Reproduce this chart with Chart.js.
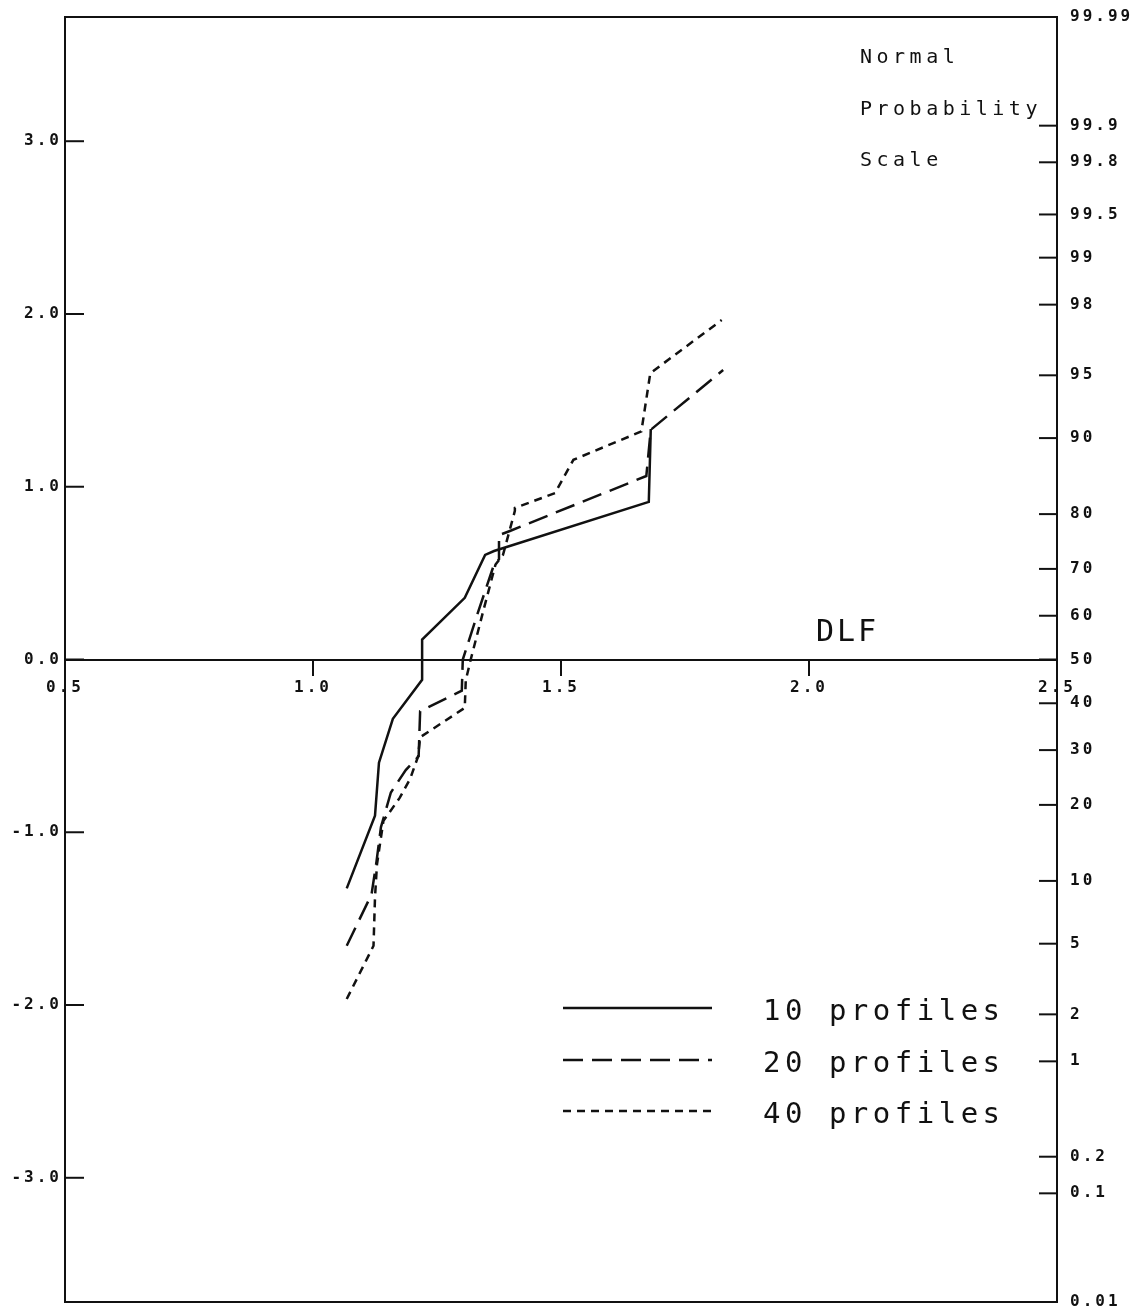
<!DOCTYPE html>
<html>
<head>
<meta charset="utf-8">
<script src="https://cdn.jsdelivr.net/npm/chart.js@4/dist/chart.umd.min.js"></script>
<style>
    html, body { margin: 0; padding: 0; background: #fff; }
    canvas { display: block; }
</style>
</head>
<body>
<canvas id="chartjs" width="1137" height="1315"></canvas>
<script>
// Данные (DLF и нормальная квантиль)
let seriesLabels = ['10 profiles', '20 profiles', '40 profiles'];

let dlf10 = [1.068, 1.125, 1.133, 1.161, 1.220, 1.220, 1.306, 1.347, 1.365, 1.677, 1.681];
let z10 = [-1.325, -0.904, -0.597, -0.343, -0.117, 0.115, 0.357, 0.605, 0.628, 0.912, 1.334];

let dlf20 = [1.068, 1.118, 1.128, 1.137, 1.157, 1.187, 1.213, 1.216, 1.300, 1.302, 1.330, 1.365, 1.375, 1.375, 1.397, 1.672, 1.681, 1.827];
let z20 = [-1.657, -1.36, -1.17, -0.97, -0.77, -0.64, -0.56, -0.30, -0.18, 0.0, 0.25, 0.55, 0.58, 0.72, 0.744, 1.062, 1.33, 1.676];

let dlf40 = [1.068, 1.122, 1.125, 1.129, 1.142, 1.175, 1.196, 1.212, 1.216, 1.306, 1.308, 1.318, 1.345, 1.368, 1.383, 1.407, 1.407, 1.488, 1.525, 1.662, 1.680, 1.824];
let z40 = [-1.965, -1.657, -1.377, -1.185, -0.934, -0.80, -0.69, -0.56, -0.45, -0.28, -0.12, 0.0, 0.30, 0.55, 0.605, 0.86, 0.877, 0.963, 1.156, 1.32, 1.657, 1.965];

let xTicks = [0.5, 1.0, 1.5, 2.0, 2.5];
let yTicks = [-3, -2, -1, 0, 1, 2, 3];
let probLabels = ['99.99', '99.9', '99.8', '99.5', '99', '98', '95', '90', '80', '70', '60', '50',
    '40', '30', '20', '10', '5', '2', '1', '0.2', '0.1', '0.01'];
let probZ = [3.719, 3.090, 2.878, 2.576, 2.326, 2.054, 1.645, 1.2816, 0.8416, 0.5244, 0.2533, 0,
    -0.2533, -0.5244, -0.8416, -1.2816, -1.645, -2.054, -2.326, -2.878, -3.090, -3.719];
let zMax = 3.719;

let ink = '#111';
let monoFont = '"DejaVu Sans Mono", "Liberation Mono", monospace';

// Получение контекста для рисования
let canvas = document.getElementById('chartjs');
let context = canvas.getContext('2d');

const toPoints = (xs, ys) => xs.map((x, i) => ({ x: x, y: ys[i] }));

// Рамка, внутренние засечки, надписи и легенда
const paperPlugin = {
    id: 'paper',
    beforeDraw: (chart) => {
        chart.ctx.letterSpacing = '3px';
    },
    afterDraw: (chart) => {
        let ctx = chart.ctx;
        let a = chart.chartArea;
        let y = chart.scales.y;
        let y2 = chart.scales.y2;

        const line = (x1, y1, x2, yy2) => {
            ctx.beginPath();
            ctx.moveTo(x1, y1);
            ctx.lineTo(x2, yy2);
            ctx.stroke();
        };

        ctx.save();
        ctx.strokeStyle = ink;
        ctx.lineWidth = 2;
        ctx.setLineDash([]);
        ctx.strokeRect(a.left, a.top, a.right - a.left, a.bottom - a.top);

        y.ticks.forEach((t) => {
            let py = y.getPixelForValue(t.value);
            line(a.left, py, a.left + 19, py);
        });
        y2.ticks.forEach((t, i) => {
            if (i === 0 || i === y2.ticks.length - 1) return;
            let py = y2.getPixelForValue(t.value);
            line(a.right - 18, py, a.right, py);
        });

        ctx.fillStyle = ink;
        ctx.textAlign = 'left';
        ctx.textBaseline = 'alphabetic';
        ctx.font = '20px ' + monoFont;
        ctx.letterSpacing = '4.5px';
        ctx.fillText('Normal', 860, 63);
        ctx.fillText('Probability', 860, 115);
        ctx.fillText('Scale', 860, 166);

        ctx.font = '30px ' + monoFont;
        ctx.letterSpacing = '3px';
        ctx.fillText('DLF', 816, 641);

        // Легенда
        let rows = [1008, 1060, 1111];
        ctx.font = '29px ' + monoFont;
        ctx.letterSpacing = '4.5px';
        chart.data.datasets.forEach((ds, i) => {
            ctx.lineWidth = ds.borderWidth;
            ctx.setLineDash(ds.borderDash || []);
            line(563, rows[i], 712, rows[i]);
            ctx.setLineDash([]);
            ctx.fillText(ds.label, 763, rows[i] + 12);
        });
        ctx.restore();
    }
};

let makeDataset = (label, xs, ys, dash) => ({
    label: label,
    data: toPoints(xs, ys),
    borderColor: ink,
    borderWidth: 2.5,
    borderDash: dash,
    pointRadius: 0,
    tension: 0,
    fill: false,
    yAxisID: 'y'
});

let tickFont = { family: monoFont, weight: 'bold', size: 16 };

// убираем запас под крайние подписи, чтобы поле было 17..1302
const fitY = (w) => (scale) => {
    scale.width = w;
    scale.paddingTop = 0;
    scale.paddingBottom = 0;
};

let config = {
    type: 'line',
    data: {
        datasets: [
            makeDataset(seriesLabels[0], dlf10, z10, []),
            makeDataset(seriesLabels[1], dlf20, z20, [20, 9]),
            makeDataset(seriesLabels[2], dlf40, z40, [8, 6])
        ]
    },
    options: {
        responsive: false,
        animation: false,
        devicePixelRatio: 1,
        layout: {
            padding: { top: 17, bottom: 13, left: 0, right: 0 }
        },
        scales: {
            x: {
                type: 'linear',
                position: { y: 0 },
                min: 0.5,
                max: 2.5,
                afterBuildTicks: (scale) => {
                    scale.ticks = xTicks.map((v) => ({ value: v }));
                },
                ticks: {
                    autoSkip: false,
                    maxRotation: 0,
                    padding: 4,
                    color: ink,
                    font: tickFont,
                    callback: (value) => Number(value).toFixed(1)
                },
                grid: {
                    drawOnChartArea: false,
                    drawTicks: true,
                    tickLength: 15,
                    lineWidth: 2,
                    color: ink
                },
                border: {
                    display: true,
                    width: 2,
                    color: ink
                }
            },
            y: {
                type: 'linear',
                position: 'left',
                min: -zMax,
                max: zMax,
                afterBuildTicks: (scale) => {
                    scale.ticks = yTicks.map((v) => ({ value: v }));
                },
                afterFit: fitY(65),
                ticks: {
                    autoSkip: false,
                    padding: 3,
                    color: ink,
                    font: tickFont,
                    callback: (value) => Number(value).toFixed(1)
                },
                grid: { display: false, drawTicks: false },
                border: { display: false }
            },
            y2: {
                type: 'linear',
                position: 'right',
                min: -zMax,
                max: zMax,
                afterBuildTicks: (scale) => {
                    scale.ticks = probZ.map((v) => ({ value: v }));
                },
                afterFit: fitY(80),
                ticks: {
                    autoSkip: false,
                    padding: 13,
                    color: ink,
                    font: tickFont,
                    callback: (value, index) => probLabels[index]
                },
                grid: { display: false, drawTicks: false },
                border: { display: false }
            }
        },
        plugins: {
            legend: { display: false },
            tooltip: { enabled: false }
        }
    },
    plugins: [paperPlugin]
};

let chart = new Chart(context, config);
</script>
</body>
</html>
